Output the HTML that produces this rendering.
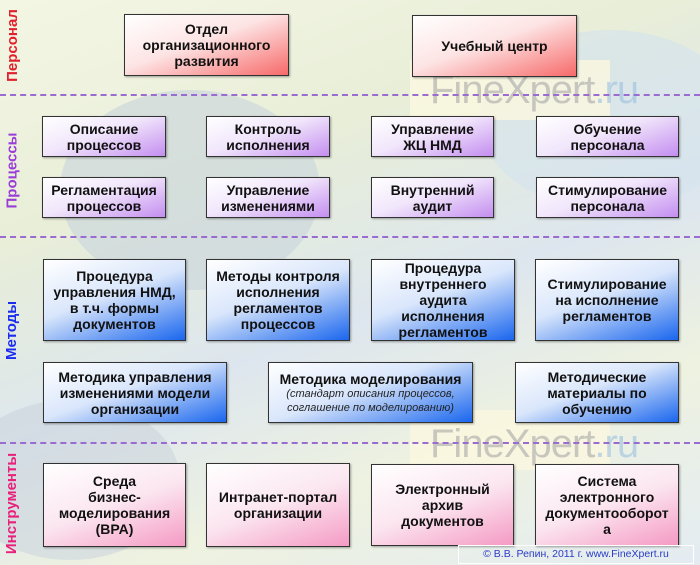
<!DOCTYPE html>
<html><head><meta charset="utf-8"><style>
body{margin:0;}
#c{position:relative;width:700px;height:565px;overflow:hidden;font-family:"Liberation Sans",sans-serif;
background:linear-gradient(160deg,#f4f6e4 0%,#e8eed8 30%,#dde6ee 55%,#eef2e0 75%,#e4ecf2 100%);}
.sw{position:absolute;border-radius:50%;}
.b{position:absolute;box-sizing:border-box;border:1.5px solid #333;display:flex;align-items:center;justify-content:center;text-align:center;font-weight:bold;font-size:14px;line-height:16px;color:#111;box-shadow:1px 1px 2px rgba(0,0,0,.35);}
.r{background:linear-gradient(160deg,#fff 0%,#fde4e4 45%,#f76a6a 100%);}
.p{background:linear-gradient(160deg,#fff 0%,#f1e6fb 45%,#c48ef0 100%);}
.u{background:linear-gradient(160deg,#fff 0%,#d9e6fb 45%,#1a66ee 100%);}
.k{background:linear-gradient(160deg,#fff 0%,#fbe6f0 50%,#f59ac4 100%);}
.d{position:absolute;left:0;width:700px;height:0;border-top:2px dashed #9a6cd0;}
.l{position:absolute;left:0;width:24px;display:flex;align-items:center;justify-content:center;}
.l span{transform:rotate(-90deg);white-space:nowrap;font-weight:bold;font-size:15px;}
.wm{position:absolute;font-size:40px;color:#a8a8a8;opacity:.6;letter-spacing:-1px;}
</style></head><body><div id="c">
<div class="sw" style="left:60px;top:90px;width:260px;height:200px;background:#c8d4dc;opacity:.6"></div>
<div class="sw" style="left:-40px;top:400px;width:220px;height:160px;background:#cdd6de;opacity:.6"></div>
<div class="sw" style="left:480px;top:30px;width:260px;height:180px;background:#d4e2ee;opacity:.6"></div>
<div style="position:absolute;left:410px;top:60px;width:200px;height:60px;background:#fbf8e0;opacity:.8"></div>
<div style="position:absolute;left:410px;top:410px;width:200px;height:60px;background:#fbf8e0;opacity:.8"></div>
<div class="wm" style="left:430px;top:68px">FineXpert<span style="color:#9cc0e0">.ru</span></div>
<div class="wm" style="left:430px;top:422px">FineXpert<span style="color:#9cc0e0">.ru</span></div>

<div class="l" style="top:5px;height:80px;color:#e0202a"><span>Персонал</span></div>
<div class="l" style="top:110px;height:120px;color:#9a3cd8"><span>Процессы</span></div>
<div class="l" style="top:290px;height:80px;color:#1a2cf0"><span>Методы</span></div>
<div class="l" style="top:448px;height:110px;color:#e8207a"><span>Инструменты</span></div>

<div class="d" style="top:94px"></div>
<div class="d" style="top:236px"></div>
<div class="d" style="top:442px"></div>

<div class="b r" style="left:124px;top:14px;width:165px;height:62px">Отдел<br>организационного<br>развития</div>
<div class="b r" style="left:412px;top:15px;width:165px;height:62px">Учебный центр</div>

<div class="b p" style="left:42px;top:116px;width:124px;height:41px">Описание<br>процессов</div>
<div class="b p" style="left:206px;top:116px;width:124px;height:41px">Контроль<br>исполнения</div>
<div class="b p" style="left:371px;top:116px;width:123px;height:41px">Управление<br>ЖЦ НМД</div>
<div class="b p" style="left:536px;top:116px;width:143px;height:41px">Обучение<br>персонала</div>
<div class="b p" style="left:42px;top:177px;width:124px;height:41px">Регламентация<br>процессов</div>
<div class="b p" style="left:206px;top:177px;width:124px;height:41px">Управление<br>изменениями</div>
<div class="b p" style="left:371px;top:177px;width:123px;height:41px">Внутренний<br>аудит</div>
<div class="b p" style="left:536px;top:177px;width:143px;height:41px">Стимулирование<br>персонала</div>

<div class="b u" style="left:43px;top:259px;width:143px;height:82px">Процедура<br>управления НМД,<br>в т.ч. формы<br>документов</div>
<div class="b u" style="left:206px;top:259px;width:144px;height:82px">Методы контроля<br>исполнения<br>регламентов<br>процессов</div>
<div class="b u" style="left:371px;top:259px;width:144px;height:82px">Процедура<br>внутреннего<br>аудита<br>исполнения<br>регламентов</div>
<div class="b u" style="left:535px;top:259px;width:144px;height:82px">Стимулирование<br>на исполнение<br>регламентов</div>
<div class="b u" style="left:43px;top:362px;width:184px;height:61px">Методика управления<br>изменениями модели<br>организации</div>
<div class="b u" style="left:268px;top:362px;width:205px;height:61px;flex-direction:column"><div>Методика моделирования</div><div style="font-weight:normal;font-style:italic;font-size:11px;line-height:14px;color:#222">(стандарт описания процессов,<br>соглашение по моделированию)</div></div>
<div class="b u" style="left:515px;top:362px;width:164px;height:61px">Методические<br>материалы по<br>обучению</div>

<div class="b k" style="left:43px;top:463px;width:143px;height:84px">Среда<br>бизнес-<br>моделирования<br>(BPA)</div>
<div class="b k" style="left:206px;top:463px;width:144px;height:84px">Интранет-портал<br>организации</div>
<div class="b k" style="left:371px;top:464px;width:143px;height:82px">Электронный<br>архив<br>документов</div>
<div class="b k" style="left:535px;top:464px;width:144px;height:82px">Система<br>электронного<br>документооборот<br>а</div>

<div style="position:absolute;left:458px;top:545px;width:236px;height:19px;border:1px solid #fff;box-sizing:border-box;font-size:10.5px;color:#2a3cc8;text-align:center;line-height:17px">© В.В. Репин, 2011 г. www.FineXpert.ru</div>
</div></body></html>
